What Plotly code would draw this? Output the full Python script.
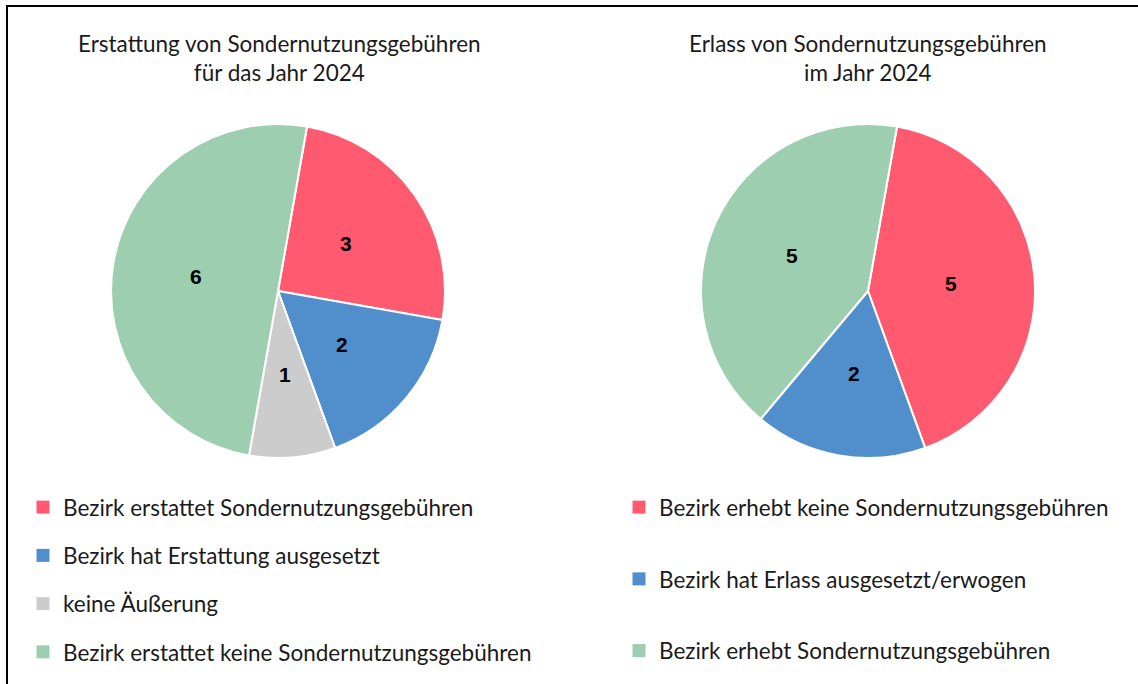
import math
import plotly.graph_objects as go

# ---------------- data ----------------
left_title = "Erstattung von Sondernutzungsgebühren<br>für das Jahr 2024"
left_labels = [
    "Bezirk erstattet Sondernutzungsgebühren",
    "Bezirk hat Erstattung ausgesetzt",
    "keine Äußerung",
    "Bezirk erstattet keine Sondernutzungsgebühren",
]
left_values = [3, 2, 1, 6]
left_colors = ["#FF5A70", "#508FCC", "#CCCCCC", "#9DCEB0"]

right_title = "Erlass von Sondernutzungsgebühren<br>im Jahr 2024"
right_labels = [
    "Bezirk erhebt keine Sondernutzungsgebühren",
    "Bezirk hat Erlass ausgesetzt/erwogen",
    "Bezirk erhebt Sondernutzungsgebühren",
]
right_values = [5, 2, 5]
right_colors = ["#FF5A70", "#508FCC", "#9DCEB0"]

W, H = 1138, 684
FONT = "Lato"
TXT = "#1a1a1a"
ROT = 10

fig = go.Figure()
annotations = []


def add_pie(labels, values, colors, domx, domy):
    fig.add_trace(go.Pie(
        labels=labels, values=values, sort=False,
        direction="clockwise", rotation=ROT,
        marker=dict(colors=colors, line=dict(color="white", width=2)),
        textinfo="none",
        domain=dict(x=domx, y=domy),
        showlegend=False, hoverinfo="label+value",
    ))
    # value labels at half radius on each slice's mid-angle
    cx = (domx[0] + domx[1]) / 2 * W
    cy = (1 - (domy[0] + domy[1]) / 2) * H
    r = min((domx[1] - domx[0]) * W, (domy[1] - domy[0]) * H) / 2
    total = sum(values)
    start = ROT
    for v in values:
        mid = math.radians(start + 180 * v / total)
        start += 360 * v / total
        px = cx + 0.5 * r * math.sin(mid)
        py = cy - 0.5 * r * math.cos(mid)
        annotations.append(dict(
            text=str(v), x=px / W, y=1 - py / H, xref="paper", yref="paper",
            xanchor="center", yanchor="middle", showarrow=False,
            font=dict(family="Liberation Sans", size=21, color="black", weight="bold"),
        ))


add_pie(left_labels, left_values, left_colors,
        [111 / W, 445 / W], [1 - 458 / H, 1 - 124 / H])
add_pie(right_labels, right_values, right_colors,
        [701 / W, 1035 / W], [1 - 458 / H, 1 - 124 / H])

# legend entries (one group per entry so spacing can be controlled)
for i, (lab, col) in enumerate(zip(left_labels, left_colors)):
    fig.add_trace(go.Scatter(
        x=[None], y=[None], mode="markers", name=lab,
        marker=dict(symbol="square", size=13, color=col),
        legend="legend", legendgroup=f"l{i}", showlegend=True,
    ))
for i, (lab, col) in enumerate(zip(right_labels, right_colors)):
    fig.add_trace(go.Scatter(
        x=[None], y=[None], mode="markers", name=lab,
        marker=dict(symbol="square", size=13, color=col),
        legend="legend2", legendgroup=f"r{i}", showlegend=True,
    ))

annotations += [
    dict(text=left_title, x=279 / W, y=1 - 28 / H, xref="paper", yref="paper",
         xanchor="center", yanchor="top", showarrow=False,
         font=dict(family=FONT, size=22.5, color=TXT)),
    dict(text=right_title, x=868 / W, y=1 - 28 / H, xref="paper", yref="paper",
         xanchor="center", yanchor="top", showarrow=False,
         font=dict(family=FONT, size=22.5, color=TXT)),
]

shapes = [
    dict(type="line", xref="paper", yref="paper", x0=7 / W, x1=7 / W, y0=0, y1=1 - 6 / H,
         line=dict(color="black", width=2)),
    dict(type="line", xref="paper", yref="paper", x0=6 / W, x1=1, y0=1 - 6 / H, y1=1 - 6 / H,
         line=dict(color="black", width=2)),
]

fig.update_layout(
    width=W, height=H,
    margin=dict(l=0, r=0, t=0, b=0),
    paper_bgcolor="white", plot_bgcolor="white",
    xaxis=dict(visible=False), yaxis=dict(visible=False),
    annotations=annotations, shapes=shapes,
    legend=dict(x=23 / W, y=1 - 486 / H, xanchor="left", yanchor="top",
                font=dict(family=FONT, size=22.5, color=TXT),
                tracegroupgap=16, bgcolor="rgba(0,0,0,0)"),
    legend2=dict(x=619 / W, y=1 - 486 / H, xanchor="left", yanchor="top",
                 font=dict(family=FONT, size=22.5, color=TXT),
                 tracegroupgap=39.5, bgcolor="rgba(0,0,0,0)"),
)

fig.write_html("out.html", config={"displayModeBar": False},
               post_script="document.body.style.margin='0';")
